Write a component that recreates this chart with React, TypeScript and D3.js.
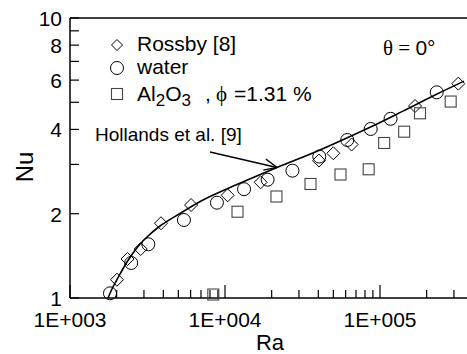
import React, { useEffect, useRef } from "react";
import * as d3 from "d3";

// Rossby [8]
const rossbyRa = [2010, 2350, 2858, 3864, 6040, 10400, 16980, 40360, 50000, 65600, 168300, 320000];
const rossbyNu = [1.162, 1.378, 1.496, 1.849, 2.148, 2.327, 2.59, 3.097, 3.287, 3.533, 4.85, 5.827];
// water
const waterRa = [1811, 2483, 3200, 5433, 8870, 13270, 18840, 27230, 40570, 61500, 87100, 117000, 232300];
const waterNu = [1.039, 1.334, 1.555, 1.899, 2.19, 2.447, 2.646, 2.849, 3.201, 3.667, 4.015, 4.365, 5.428];
// Al2O3, phi = 1.31 %
const alRa = [8405, 12040, 21480, 35610, 55600, 84500, 106400, 143200, 181200, 285700];
const alNu = [1.029, 2.033, 2.304, 2.554, 2.761, 2.882, 3.578, 3.926, 4.567, 5.03];
// Hollands et al. [9] curve
const hollRa = [1759, 1866, 2010, 2332, 2746, 3187, 3807, 5125, 7211, 11950, 21650, 41020, 86200, 140700, 233200, 348300];
const hollNu = [1.0, 1.077, 1.164, 1.345, 1.527, 1.665, 1.808, 2.004, 2.239, 2.543, 2.925, 3.379, 4.07, 4.65, 5.35, 5.95];

const xMajor = [1e3, 1e4, 1e5];
const xMajorLabels = ["1E+003", "1E+004", "1E+005"];
const yLabeled = [1, 2, 4, 6, 8, 10];

// arrow annotation (data coords)
const arrowFrom = [8000, 3.322];
const arrowTo = [21650, 2.925];

const FONT = "'Liberation Sans', Arial, sans-serif";
const SERIF = "'Liberation Serif', 'DejaVu Serif', serif";

export default function App() {
  const ref = useRef<SVGSVGElement>(null);
  useEffect(() => {
    document.body.style.margin = "0";
    const W = 467;
    const L = 70, T = 18, B = 298;
    const svg = d3.select(ref.current);
    svg.selectAll("*").remove();
    const x = d3.scaleLog().domain([1e3, 1e6]).range([L, L + 3 * 155]);
    const y = d3.scaleLog().domain([1, 10]).range([B, T]);

    const g = svg.append("g");

    // axes lines
    g.append("line").attr("x1", L).attr("x2", W).attr("y1", T).attr("y2", T).attr("stroke", "#000").attr("stroke-width", 1.5);
    g.append("line").attr("x1", L).attr("x2", L).attr("y1", T).attr("y2", B).attr("stroke", "#000").attr("stroke-width", 1.5);
    g.append("line").attr("x1", L).attr("x2", W).attr("y1", B).attr("y2", B).attr("stroke", "#000").attr("stroke-width", 1.5);

    // y ticks
    const yt = d3.range(1, 11);
    g.selectAll(".yt").data(yt).enter().append("line")
      .attr("x1", L).attr("x2", L + 9)
      .attr("y1", (d) => y(d)).attr("y2", (d) => y(d))
      .attr("stroke", "#000").attr("stroke-width", 1.2);
    g.selectAll(".yl").data(yLabeled).enter().append("text")
      .attr("x", L - 8).attr("y", (d) => y(d) + 8)
      .attr("text-anchor", "end").attr("font-family", FONT).attr("font-size", 21)
      .text((d) => String(d));

    // x ticks
    const xt = x.ticks().filter((d) => x(d) <= W);
    g.selectAll(".xt").data(xt).enter().append("line")
      .attr("x1", (d) => x(d)).attr("x2", (d) => x(d))
      .attr("y1", B).attr("y2", (d) => (xMajor.includes(d) ? B - 13 : B - 8))
      .attr("stroke", "#000").attr("stroke-width", 1.2);
    g.selectAll(".xl").data(xMajor).enter().append("text")
      .attr("x", (d) => x(d)).attr("y", 327)
      .attr("text-anchor", "middle").attr("font-family", FONT).attr("font-size", 21)
      .text((d, i) => xMajorLabels[i]);

    // axis titles
    g.append("text").attr("x", 270).attr("y", 350).attr("text-anchor", "middle")
      .attr("font-family", FONT).attr("font-size", 22).text("Ra");
    g.append("text").attr("transform", "translate(33,167) rotate(-90)").attr("text-anchor", "middle")
      .attr("font-family", FONT).attr("font-size", 24).text("Nu");

    // Hollands curve
    const line = d3.line<number>().x((d, i) => x(hollRa[i])).y((d, i) => y(hollNu[i])).curve(d3.curveCatmullRom.alpha(0.5));
    g.append("path").attr("d", line(hollNu) || "").attr("fill", "none").attr("stroke", "#000").attr("stroke-width", 1.6);

    // markers
    const drawCircle = (cx: number, cy: number) =>
      g.append("circle").attr("cx", cx).attr("cy", cy).attr("r", 6.5).attr("fill", "none").attr("stroke", "#000").attr("stroke-width", 1);
    const drawSquare = (cx: number, cy: number) =>
      g.append("rect").attr("x", cx - 5.5).attr("y", cy - 5.5).attr("width", 11).attr("height", 11).attr("fill", "none").attr("stroke", "#444").attr("stroke-width", 1.1);
    const drawDiamond = (cx: number, cy: number, s = 6.5) =>
      g.append("path").attr("d", `M${cx},${cy - s}L${cx + s},${cy}L${cx},${cy + s}L${cx - s},${cy}Z`).attr("fill", "none").attr("stroke", "#000").attr("stroke-width", 1);

    rossbyRa.forEach((r, i) => drawDiamond(x(r), y(rossbyNu[i])));
    waterRa.forEach((r, i) => drawCircle(x(r), y(waterNu[i])));
    alRa.forEach((r, i) => drawSquare(x(r), y(alNu[i])));

    // arrow
    const x0 = x(arrowFrom[0]), y0 = y(arrowFrom[1]), x1 = x(arrowTo[0]), y1 = y(arrowTo[1]);
    g.append("line").attr("x1", x0).attr("y1", y0).attr("x2", x1).attr("y2", y1).attr("stroke", "#000").attr("stroke-width", 1.4);
    const ang = Math.atan2(y1 - y0, x1 - x0);
    const hl = 14, ha = 0.42;
    g.append("path")
      .attr("d", `M${x1 - hl * Math.cos(ang - ha)},${y1 - hl * Math.sin(ang - ha)}L${x1},${y1}L${x1 - hl * Math.cos(ang + ha)},${y1 - hl * Math.sin(ang + ha)}`)
      .attr("fill", "none").attr("stroke", "#000").attr("stroke-width", 1.4);
    g.append("text").attr("x", 95).attr("y", 141).attr("font-family", FONT).attr("font-size", 19).text("Hollands et al. [9]");

    // legend
    drawDiamond(117, 45, 5.5);
    g.append("text").attr("x", 137).attr("y", 51).attr("font-family", FONT).attr("font-size", 21).text("Rossby [8]");
    drawCircle(117, 68);
    g.append("text").attr("x", 137).attr("y", 74).attr("font-family", FONT).attr("font-size", 21).text("water");
    drawSquare(117, 94);
    const t3 = g.append("text").attr("x", 137).attr("y", 101).attr("font-family", FONT).attr("font-size", 21);
    t3.append("tspan").text("Al");
    t3.append("tspan").attr("font-size", 17).attr("dy", 5).text("2");
    t3.append("tspan").attr("dy", -5).text("O");
    t3.append("tspan").attr("font-size", 17).attr("dy", 5).text("3");
    t3.append("tspan").attr("dy", -5).attr("x", 205).text(",");
    t3.append("tspan").attr("x", 216).attr("font-family", SERIF).text("\u03d5");
    t3.append("tspan").attr("x", 234).text("=1.31 %");

    const th = g.append("text").attr("x", 383).attr("y", 55).attr("font-size", 21);
    th.append("tspan").attr("font-family", SERIF).text("\u03b8 = ");
    th.append("tspan").attr("font-family", FONT).text("0\u00b0");
  }, []);
  return <svg ref={ref} width={467} height={354} style={{ position: "absolute", left: 0, top: 0, background: "#fff" }} />;
}
